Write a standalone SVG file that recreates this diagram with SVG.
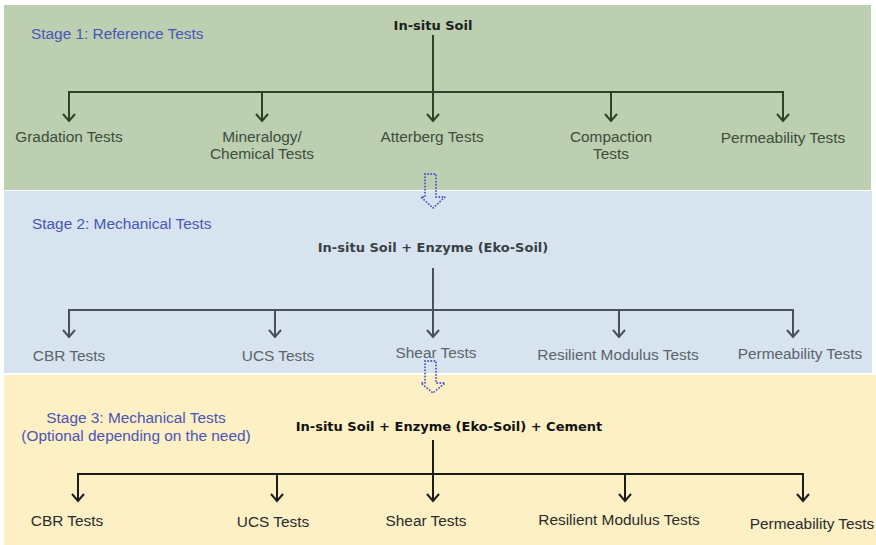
<svg xmlns="http://www.w3.org/2000/svg" width="876" height="545" viewBox="0 0 876 545">
  <style>
    .title { font-family: "Liberation Sans", Arial, sans-serif; font-size: 15.4px; fill: #4a55b8; }
    .root { font-family: "DejaVu Sans", Verdana, sans-serif; font-size: 13px; font-weight: bold; text-anchor: middle; }
    .lbl { font-family: "Liberation Sans", Arial, sans-serif; font-size: 15.4px; text-anchor: middle; }
    .s1 .lbl { fill: #3e4d3c; }
    .s2 .lbl { fill: #5b636b; }
    .s3 .lbl { fill: #2b2b2b; }
    .bar1 { stroke: #2d4228; stroke-width: 2; fill: none; }
    .bar2 { stroke: #46515a; stroke-width: 2; fill: none; }
    .bar3 { stroke: #1c1c1c; stroke-width: 2; fill: none; }
    .w1 { stroke: #2d4228; stroke-width: 2; fill: none; marker-end: url(#ah1); }
    .w2 { stroke: #46515a; stroke-width: 2; fill: none; marker-end: url(#ah2); }
    .w3 { stroke: #1c1c1c; stroke-width: 2; fill: none; marker-end: url(#ah3); }
    .flow { fill: none; stroke: #4a4ac8; stroke-width: 1.8; stroke-dasharray: 0.1 3; stroke-linecap: round; stroke-linejoin: round; }
  </style>
  <defs>
    <marker id="ah1" viewBox="-10 -8 12 16" markerWidth="12" markerHeight="16" refX="0" refY="0" orient="auto" markerUnits="userSpaceOnUse">
      <path d="M-7,-6 L0,0 L-7,6" fill="none" stroke="#2d4228" stroke-width="2"/>
    </marker>
    <marker id="ah2" viewBox="-10 -8 12 16" markerWidth="12" markerHeight="16" refX="0" refY="0" orient="auto" markerUnits="userSpaceOnUse">
      <path d="M-7,-6 L0,0 L-7,6" fill="none" stroke="#46515a" stroke-width="2"/>
    </marker>
    <marker id="ah3" viewBox="-10 -8 12 16" markerWidth="12" markerHeight="16" refX="0" refY="0" orient="auto" markerUnits="userSpaceOnUse">
      <path d="M-7,-6 L0,0 L-7,6" fill="none" stroke="#1c1c1c" stroke-width="2"/>
    </marker>
  </defs>

  <rect width="876" height="545" fill="#ffffff"/>

  <!-- stage panels -->
  <rect x="4" y="5" width="867" height="185" fill="#bccfb0"/>
  <rect x="4" y="191" width="868" height="182" fill="#d7e4ef"/>
  <rect x="4" y="375" width="872" height="170" fill="#fdf0c5"/>

  <!-- connectors -->
  <g id="connectors">
    <g class="s1">
      <path class="w1" d="M433,35 V121"/>
      <path class="bar1" d="M69,92 H783"/>
      <path class="w1" d="M69,91 V121"/>
      <path class="w1" d="M262,92 V121"/>
      <path class="w1" d="M611,92 V121"/>
      <path class="w1" d="M783,91 V121"/>
    </g>
    <g class="s2">
      <path class="w2" d="M433,268 V337"/>
      <path class="bar2" d="M69,310 H793"/>
      <path class="w2" d="M69,309 V337"/>
      <path class="w2" d="M275,310 V337"/>
      <path class="w2" d="M619,310 V337"/>
      <path class="w2" d="M793,309 V337"/>
    </g>
    <g class="s3">
      <path class="w3" d="M433,440 V501"/>
      <path class="bar3" d="M78,474 H803"/>
      <path class="w3" d="M78,473 V501"/>
      <path class="w3" d="M277,474 V501"/>
      <path class="w3" d="M625,474 V501"/>
      <path class="w3" d="M803,473 V501"/>
    </g>
    <!-- dotted block arrows between stages -->
    <path class="flow" d="M425,174 L436,174 L436,197 L445,197 L433,208 L421,197 L425,197 Z"/>
    <path class="flow" d="M425,361 L436,361 L436,383 L445,383 L433,393 L421,383 L425,383 Z"/>
  </g>

  <!-- stage 1 -->
  <g id="stage1" class="s1">
    <text class="title" x="31" y="39">Stage 1: Reference Tests</text>
    <g id="s1-root"><text class="root" x="433" y="30" fill="#1e1e1e">In-situ Soil</text></g>
    <g id="s1-gradation"><text class="lbl" x="69" y="142">Gradation Tests</text></g>
    <g id="s1-mineralogy"><text class="lbl" x="262" y="142">Mineralogy/</text><text class="lbl" x="262" y="159">Chemical Tests</text></g>
    <g id="s1-atterberg"><text class="lbl" x="432" y="142">Atterberg Tests</text></g>
    <g id="s1-compaction"><text class="lbl" x="611" y="142">Compaction</text><text class="lbl" x="611" y="159">Tests</text></g>
    <g id="s1-permeability"><text class="lbl" x="783" y="143">Permeability Tests</text></g>
  </g>

  <!-- stage 2 -->
  <g id="stage2" class="s2">
    <text class="title" x="32" y="229">Stage 2: Mechanical Tests</text>
    <g id="s2-root"><text class="root" x="433" y="252" fill="#3a3f44">In-situ Soil + Enzyme (Eko-Soil)</text></g>
    <g id="s2-cbr"><text class="lbl" x="69" y="361">CBR Tests</text></g>
    <g id="s2-ucs"><text class="lbl" x="278" y="361">UCS Tests</text></g>
    <g id="s2-shear"><text class="lbl" x="436" y="358">Shear Tests</text></g>
    <g id="s2-resilient"><text class="lbl" x="618" y="360">Resilient Modulus Tests</text></g>
    <g id="s2-permeability"><text class="lbl" x="800" y="359">Permeability Tests</text></g>
  </g>

  <!-- stage 3 -->
  <g id="stage3" class="s3">
    <text class="title" x="136" y="423" text-anchor="middle">Stage 3: Mechanical Tests</text>
    <text class="title" x="136" y="441" text-anchor="middle">(Optional depending on the need)</text>
    <g id="s3-root"><text class="root" x="449" y="431" fill="#111111">In-situ Soil + Enzyme (Eko-Soil) + Cement</text></g>
    <g id="s3-cbr"><text class="lbl" x="67" y="526">CBR Tests</text></g>
    <g id="s3-ucs"><text class="lbl" x="273" y="527">UCS Tests</text></g>
    <g id="s3-shear"><text class="lbl" x="426" y="526">Shear Tests</text></g>
    <g id="s3-resilient"><text class="lbl" x="619" y="525">Resilient Modulus Tests</text></g>
    <g id="s3-permeability"><text class="lbl" x="812" y="529">Permeability Tests</text></g>
  </g>
</svg>
